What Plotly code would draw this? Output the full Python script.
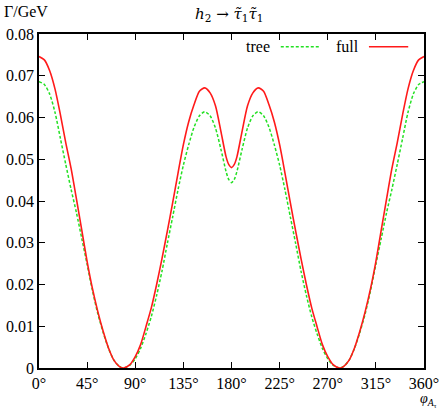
import plotly.graph_objects as go

angles = [0, 5, 10, 15, 20, 25, 30, 35, 40, 45, 50, 55, 60, 65, 70, 75, 79, 85, 90, 95,
          100, 105, 110, 115, 120, 125, 130, 135, 140, 145, 150, 155, 160, 165, 170, 175, 177.5, 180,
          182.5, 185, 190, 195, 200, 205, 210, 215, 220, 225, 230, 235, 240, 245, 250, 255, 260,
          265, 270, 275, 281, 285, 290, 295, 300, 305, 310, 315, 320, 325, 330, 335, 340,
          345, 350, 355, 360]

full = [0.0746, 0.0738, 0.0712, 0.0668, 0.0607, 0.0540, 0.0478, 0.0405, 0.0330, 0.0255,
        0.0190, 0.0135, 0.0088, 0.0048, 0.0019, 0.0004, 0.0000, 0.0008, 0.0027, 0.0056,
        0.0099, 0.0144, 0.0200, 0.0262, 0.0328, 0.0396, 0.0467, 0.0535, 0.0590, 0.0631,
        0.0663, 0.0671, 0.0659, 0.0628, 0.0568, 0.0505, 0.0487, 0.0480,
        0.0487, 0.0505, 0.0568, 0.0628, 0.0659, 0.0671, 0.0663, 0.0631, 0.0590, 0.0535, 0.0467,
        0.0396, 0.0328, 0.0262, 0.0200, 0.0144, 0.0099, 0.0056, 0.0027, 0.0008, 0.0000,
        0.0004, 0.0019, 0.0048, 0.0088, 0.0135, 0.0190, 0.0255, 0.0330, 0.0405, 0.0478,
        0.0540, 0.0607, 0.0668, 0.0712, 0.0738, 0.0746]

tree = [0.0686, 0.0679, 0.0656, 0.0612, 0.0550, 0.0488, 0.0428, 0.0372, 0.0310, 0.0248,
        0.0185, 0.0130, 0.0085, 0.0047, 0.0019, 0.0004, 0.0000, 0.0007, 0.0022, 0.0047,
        0.0082, 0.0123, 0.0174, 0.0232, 0.0298, 0.0362, 0.0427, 0.0486, 0.0535, 0.0577,
        0.0604, 0.0614, 0.0604, 0.0575, 0.0525, 0.0470, 0.0451, 0.0444,
        0.0451, 0.0470, 0.0525, 0.0575, 0.0604, 0.0614, 0.0604, 0.0577, 0.0535, 0.0486, 0.0427,
        0.0362, 0.0298, 0.0232, 0.0174, 0.0123, 0.0082, 0.0047, 0.0022, 0.0007, 0.0000,
        0.0004, 0.0019, 0.0047, 0.0085, 0.0130, 0.0185, 0.0248, 0.0310, 0.0372, 0.0428,
        0.0488, 0.0550, 0.0612, 0.0656, 0.0679, 0.0686]

x_ticks = [0, 45, 90, 135, 180, 225, 270, 315, 360]
x_tick_labels = ["0°", "45°", "90°", "135°", "180°", "225°", "270°", "315°", "360°"]
y_ticks = [0, 0.01, 0.02, 0.03, 0.04, 0.05, 0.06, 0.07, 0.08]
y_tick_labels = ["0", "0.01", "0.02", "0.03", "0.04", "0.05", "0.06", "0.07", "0.08"]

RED = "#ff1a1a"
GREEN = "#22e022"
FONT = "Liberation Serif"

fig = go.Figure()
fig.add_trace(go.Scatter(x=angles, y=tree, mode="lines", name="tree",
                         line=dict(color=GREEN, width=1.5, dash="3px,2px", shape="spline", smoothing=0.7),
                         showlegend=False))
fig.add_trace(go.Scatter(x=angles, y=full, mode="lines", name="full",
                         line=dict(color=RED, width=1.6, shape="spline", smoothing=0.7),
                         showlegend=False))

axis_common = dict(showgrid=False, zeroline=False, showline=True, linecolor="black",
                   linewidth=1.5, mirror="ticks", ticks="inside", ticklen=6,
                   tickcolor="black", tickwidth=1.2, automargin=False,
                   tickfont=dict(family=FONT, size=16, color="black"))

fig.update_xaxes(range=[0, 360], tickvals=x_ticks, ticktext=x_tick_labels, **axis_common)
fig.update_yaxes(range=[0, 0.08], tickvals=y_ticks, ticktext=y_tick_labels, **axis_common)

# legend drawn manually (text before line sample)
legend_y = 0.962
fig.add_annotation(xref="paper", yref="paper", x=0.606, y=legend_y, text="tree",
                   showarrow=False, xanchor="right", yanchor="middle",
                   font=dict(family=FONT, size=16, color="black"))
fig.add_shape(type="line", xref="paper", yref="paper", x0=0.628, x1=0.730, y0=legend_y, y1=legend_y,
              line=dict(color=GREEN, width=1.5, dash="3px,2px"))
fig.add_annotation(xref="paper", yref="paper", x=0.836, y=legend_y, text="full",
                   showarrow=False, xanchor="right", yanchor="middle",
                   font=dict(family=FONT, size=16, color="black"))
fig.add_shape(type="line", xref="paper", yref="paper", x0=0.857, x1=0.959, y0=legend_y, y1=legend_y,
              line=dict(color=RED, width=1.6))

fig.add_annotation(xref="paper", yref="paper", x=-0.097, y=1.066, text="Γ/GeV",
                   showarrow=False, xanchor="left", yanchor="middle",
                   font=dict(family=FONT, size=16, color="black"))
fig.add_annotation(xref="paper", yref="paper", x=0.494, y=1.058,
                   text="<i>h</i><sub>2</sub> → <i>τ̃</i><sub>1</sub><i>τ̃</i><sub>1</sub>",
                   showarrow=False, xanchor="center", yanchor="middle",
                   font=dict(family="DejaVu Serif", size=15, color="black"))
fig.add_annotation(xref="paper", yref="paper", x=1.036, y=-0.097,
                   text="<i>φ</i><sub><i>A</i><sub>τ</sub></sub>",
                   showarrow=False, xanchor="right", yanchor="middle", borderpad=0,
                   font=dict(family=FONT, size=14, color="black"))

fig.update_layout(width=441, height=409, margin=dict(l=39, r=17, t=34, b=41),
                  paper_bgcolor="white", plot_bgcolor="white",
                  font=dict(family=FONT, size=16, color="black"))

fig.write_html("out.html", config={"displayModeBar": False},
               post_script="document.body.style.margin='0';document.body.style.overflow='hidden';")
